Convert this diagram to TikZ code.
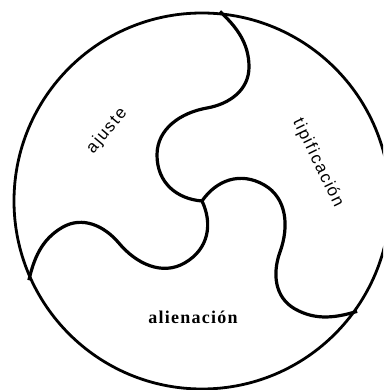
\documentclass[tikz,border=0pt]{standalone}
\usepackage{fontspec}
\usepackage{tikz}
\newfontfamily\sectorfont[LetterSpace=9]{Liberation Sans}
\newfontfamily\bottomfont[LetterSpace=7]{Liberation Serif}

\begin{document}
\begin{tikzpicture}[
    x=1pt, y=1pt,
    rim/.style={line width=2.8pt, color=black},
    curve/.style={line width=3.2pt, color=black, line join=round},
    sector/.style={font=\sectorfont\fontsize{17}{19}\selectfont, inner sep=0pt},
    bottom/.style={font=\bottomfont\bfseries\fontsize{18}{20}\selectfont, inner sep=0pt},
]

\clip (-202,-189) rectangle (181,201);

\coordinate (centre) at (0,0);
\draw[rim] (centre) circle (188);

% three S-shaped dividers, one rotated copy each
\foreach \rot in {0,120,240}{
    \draw[curve, rotate=\rot] (centre)
        .. controls (-25,2) and (-45,18) .. (-45,46)
        .. controls (-45,72) and (-21.6,88.3) .. (5,93)
        .. controls (27.6,97) and (47,111) .. (47,134)
        .. controls (47,159) and (33.3,175.1) .. (18,189.5);
}

\node[sector, rotate=50] (ajuste) at (-95,70) {ajuste};
\node[sector, rotate=-64] (tipif) at (116,38) {tipificación};
\node[bottom] (alien) at (-9,-116) {alienación};

\end{tikzpicture}
\end{document}
